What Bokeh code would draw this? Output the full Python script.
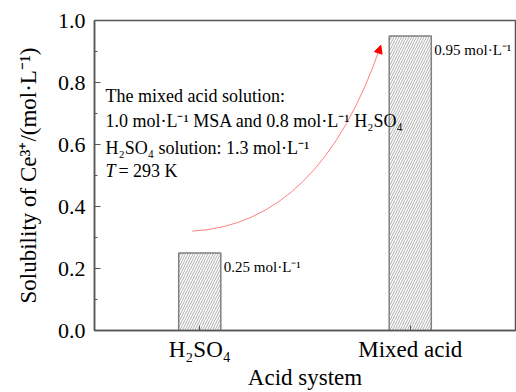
from bokeh.plotting import figure
from bokeh.models import Range1d, Label, Arrow, NormalHead, FixedTicker
from bokeh.embed import file_html
from bokeh.resources import INLINE

# ---- data ----
positions = [1, 2]
categories = ["H₂SO₄", "Mixed acid"]
solubility = [0.25, 0.95]
bar_labels = ["0.25 mol·L⁻¹", "0.95 mol·L⁻¹"]
y_major = [0.0, 0.2, 0.4, 0.6, 0.8, 1.0]
y_minor = [0.1, 0.3, 0.5, 0.7, 0.9]
notes = ["The mixed acid solution:",
         "1.0 mol·L⁻¹ MSA and 0.8 mol·L⁻¹ H₂SO₄",
         "H₂SO₄ solution: 1.3 mol·L⁻¹"]
temp_symbol = "T"
temp_text = "= 293 K"

FONT = "'Liberation Serif', 'Times New Roman', serif"
AX = "#555555"

p = figure(width=516, height=392, x_range=Range1d(0.5, 2.5), y_range=Range1d(0, 1.0),
           output_backend="svg", toolbar_location=None,
           min_border_left=94, min_border_right=1, min_border_top=20, min_border_bottom=60)
p.background_fill_color = "white"
p.border_fill_color = "white"
p.outline_line_color = AX
p.outline_line_width = 1.5
p.xgrid.visible = False
p.ygrid.visible = False

# bars
p.vbar(x=positions, top=solubility, width=0.2, fill_color="white",
       line_color="#808080", line_width=1.5,
       hatch_pattern="/", hatch_color="#8a8a8a", hatch_scale=5, hatch_weight=0.7)

# axes
xa = p.xaxis[0]
xa.ticker = FixedTicker(ticks=positions)
xa.major_label_overrides = {pos: lab for pos, lab in zip(positions, categories)}
xa.axis_label = "Acid system"
ya = p.yaxis[0]
ya.ticker = FixedTicker(ticks=y_major, minor_ticks=y_minor)
ya.axis_label = "Solubility of Ce³⁺/(mol·L⁻¹)"
for ax in (xa, ya):
    ax.axis_line_color = AX
    ax.axis_line_width = 1.5
    ax.major_tick_line_color = AX
    ax.minor_tick_line_color = AX
    ax.major_tick_out = 0
    ax.minor_tick_out = 0
    ax.major_label_text_font = FONT
    ax.axis_label_text_font = FONT
    ax.axis_label_text_font_size = "23px"
    ax.axis_label_text_font_style = "normal"
    ax.major_label_text_color = "black"
    ax.axis_label_text_color = "black"
xa.major_label_text_font_size = "23px"
ya.major_label_text_font_size = "22px"
xa.major_tick_in = 5
xa.minor_tick_in = 0
xa.major_label_standoff = 6
xa.axis_label_standoff = 0
ya.major_tick_in = 6
ya.minor_tick_in = 3
ya.major_label_standoff = 9
ya.axis_label_standoff = 14
ya.major_label_overrides = {t: f"{t:.1f}" for t in y_major}

# bar value labels
for pos, val, lab in zip(positions, solubility, bar_labels):
    p.add_layout(Label(x=pos + 0.1, y=val - 0.045, x_offset=3, text=lab,
                       text_font=FONT, text_font_size="15px", text_color="black",
                       text_baseline="alphabetic"))

# notes
note_y = [0.756, 0.676, 0.590]
for ny, t in zip(note_y, notes):
    p.add_layout(Label(x=0.552, y=ny, text=t, text_font=FONT, text_font_size="18px",
                       text_color="black", text_baseline="alphabetic"))
p.add_layout(Label(x=0.552, y=0.513, text=temp_symbol, text_font=FONT, text_font_size="18px",
                   text_font_style="italic", text_color="black", text_baseline="alphabetic"))
p.add_layout(Label(x=0.552, y=0.513, x_offset=13, text=temp_text, text_font=FONT,
                   text_font_size="18px", text_color="black", text_baseline="alphabetic"))

# curved arrow annotation
p.quadratic(x0=[0.9645], y0=[0.3205], x1=[1.860], y1=[0.920], cx=[1.571], cy=[0.343],
            line_color="#ff8080", line_width=1)
p.add_layout(Arrow(x_start=1.846, y_start=0.891, x_end=1.860, y_end=0.920,
                   line_color="#ff8080", line_width=1,
                   end=NormalHead(size=8, fill_color="red", line_color="red", line_width=1)))

open("out.html", "w").write(file_html(p, INLINE))
